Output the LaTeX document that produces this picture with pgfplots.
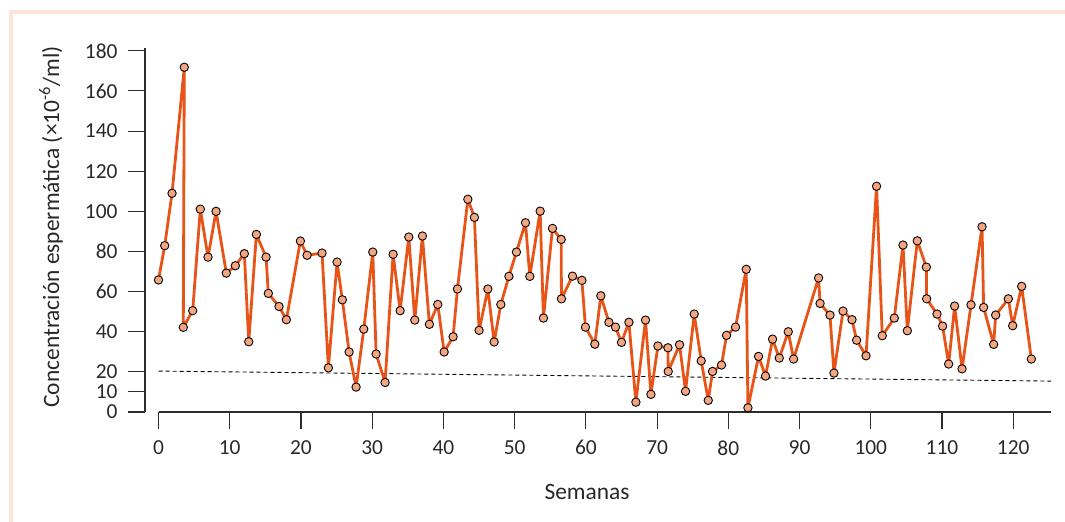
\documentclass[border=0pt]{standalone}
\usepackage{fontspec}
\setmainfont{Carlito}
\usepackage{pgfplots}
\pgfplotsset{compat=1.18}
\definecolor{lineor}{RGB}{232,84,24}
\definecolor{markfill}{RGB}{244,166,128}
\definecolor{axisgray}{RGB}{45,45,45}
\definecolor{txt}{RGB}{40,40,40}
\definecolor{framepink}{RGB}{252,228,218}
\newcommand{\lbl}{\fontsize{21.5}{25}\selectfont}
\newcommand{\albl}{\fontsize{23.5}{27}\selectfont}
\begin{document}
\begin{tikzpicture}
\path[use as bounding box] (0,0) rectangle (1065bp,522bp);
\fill[framepink] (9bp,0) rectangle (13bp,512bp);
\fill[framepink] (9bp,508bp) rectangle (1065bp,512bp);
\begin{axis}[
  at={(145bp,110bp)}, anchor=south west,
  scale only axis, width=906bp, height=364bp,
  xmin=-1.896, xmax=125.3, ymin=0, ymax=181.4,
  axis x line*=bottom, axis y line*=left,
  axis line style={-},
  x axis line style={draw=none},
  y axis line style={draw=axisgray, line width=1.2bp},
  xtick={0,10,...,120},
  ytick={0,10,20,40,60,80,100,120,140,160,180},
  tick align=outside, major tick length=17bp,
  tick style={draw=axisgray, line width=1.1bp},
  ticklabel style={font=\lbl, text=txt},
  xticklabel style={yshift=-8bp},
  yticklabel style={xshift=-7bp},
  /pgf/number format/assume math mode=true,
  clip=false,
]
\draw[axisgray, line width=1.2bp] (axis cs:0,0) -- (axis cs:125.3,0);
\addplot[black, line width=0.9bp, dash pattern=on 4bp off 3bp, forget plot] coordinates {(0,20.4) (125.3,15.4)};
\addplot[color=lineor, line width=2.8bp, line join=round, mark=*, mark size=4.2bp,
  mark options={fill=markfill, draw=black, line width=0.9bp, solid}] coordinates {
(0,65.8) (0.87,82.9) (1.90,109) (3.62,171.8) (3.48,42.2) (4.80,50.5) (5.87,101.1)
(6.95,77.2) (8.08,100) (9.52,69.2) (10.79,72.9) (12.05,78.9) (12.67,35) (13.74,88.5)
(15.10,77.2) (15.42,59.1) (16.92,52.6) (17.95,46) (19.92,85.2) (20.86,78.1) (22.96,79.2)
(23.85,22) (25.07,74.7) (25.81,55.9) (26.76,29.9) (27.74,12.4) (28.82,41.3) (30.08,79.7)
(30.55,28.9) (31.81,14.7) (32.94,78.6) (33.92,50.5) (35.14,87.2) (35.98,45.8) (37.05,87.7)
(38.03,43.7) (39.21,53.6) (40.10,29.9) (41.36,37.5) (41.97,61.3) (43.43,106) (44.35,97)
(45.01,40.7) (46.24,61.3) (47.12,34.9) (48.06,53.6) (49.19,67.6) (50.25,79.7) (51.52,94.3)
(52.13,67.6) (53.58,100.1) (54.04,46.8) (55.31,91.5) (56.53,86) (56.57,56.4) (58.12,67.7)
(59.44,65.6) (59.94,42.3) (61.26,33.8) (62.1,57.9) (63.23,44.7) (64.16,42.3) (65.0,34.7)
(66.04,44.7) (67.02,4.9) (68.37,45.8) (69.13,8.8) (70.11,32.9) (71.52,32) (71.56,20.2)
(73.15,33.5) (73.99,10.3) (75.21,48.8) (76.19,25.5) (77.18,5.8) (77.78,20.2) (79.04,23.4)
(79.75,38.2) (81.01,42.3) (82.51,71.1) (82.75,2.1) (84.24,27.7) (85.22,17.9) (86.21,36.3)
(87.15,26.9) (88.41,40) (89.16,26.4) (92.67,66.8) (92.88,54.1) (94.27,48.3) (94.83,19.4)
(96.10,50.3) (97.36,46) (98.01,35.8) (99.33,28) (100.81,112.5) (101.61,38) (103.3,46.8)
(104.52,83.2) (105.13,40.5) (106.53,85.3) (107.80,72.2) (107.84,56.4) (109.30,48.8)
(110.08,42.8) (110.93,23.9) (111.77,52.8) (112.81,21.5) (114.07,53.4) (115.62,92.3)
(115.84,52.1) (117.25,33.7) (117.53,48.3) (119.31,56.4) (119.92,43) (121.18,62.6) (122.54,26.4)
};
\end{axis}
\node[font=\albl, text=txt, rotate=90] at (51bp,295bp) {Concentración espermática (×10\textsuperscript{-6}/ml)};
\node[font=\albl, text=txt] at (587bp,30bp) {Semanas};
\end{tikzpicture}
\end{document}
